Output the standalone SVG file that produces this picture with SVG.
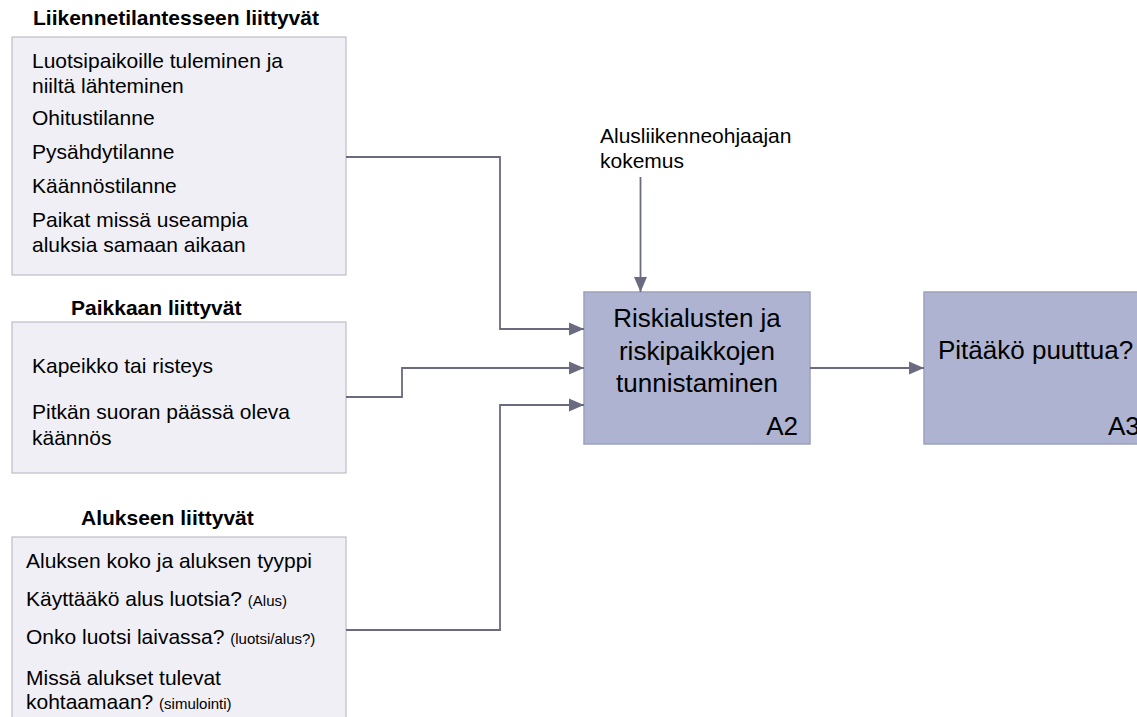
<svg xmlns="http://www.w3.org/2000/svg" width="1137" height="717" viewBox="0 0 1137 717">
<defs>
<style>
text{font-family:"Liberation Sans",Arial,sans-serif;fill:#000}
.h{font-size:21px;font-weight:bold}
.b{font-size:21px}
.s{font-size:15px}
.big{font-size:26px}
.src{fill:#efeff5;stroke:#bdbdc8;stroke-width:1.2}
.act{fill:#adb3d0;stroke:#9ca1bb;stroke-width:1.5}
.c{fill:none;stroke:#6a6a80;stroke-width:1.8;marker-end:url(#ah)}
.l{fill:none;stroke:#6a6a80;stroke-width:1.8}
</style>
<marker id="ah" markerUnits="userSpaceOnUse" markerWidth="16" markerHeight="14" refX="15" refY="7" orient="auto">
<path d="M0,0.5 L15,7 L0,13.5 Z" fill="#6a6a80"/>
</marker>
</defs>
<rect width="1137" height="717" fill="#fff"/>
<g id="liikenne">
<text class="h" x="33" y="25">Liikennetilantesseen liittyvät</text>
<rect class="src" x="12" y="37" width="334" height="238"/>
<text class="b" x="32" y="68">Luotsipaikoille tuleminen ja</text>
<text class="b" x="32" y="93">niiltä lähteminen</text>
<text class="b" x="32" y="125">Ohitustilanne</text>
<text class="b" x="32" y="159">Pysähdytilanne</text>
<text class="b" x="32" y="193">Käännöstilanne</text>
<text class="b" x="32" y="227">Paikat missä useampia</text>
<text class="b" x="32" y="252">aluksia samaan aikaan</text>
</g>
<g id="paikka">
<text class="h" x="71" y="315">Paikkaan liittyvät</text>
<rect class="src" x="12" y="322" width="334" height="151"/>
<text class="b" x="32" y="373">Kapeikko tai risteys</text>
<text class="b" x="32" y="419">Pitkän suoran päässä oleva</text>
<text class="b" x="32" y="445">käännös</text>
</g>
<g id="alus">
<text class="h" x="81" y="525">Alukseen liittyvät</text>
<rect class="src" x="12" y="537" width="334" height="200"/>
<text class="b" x="26" y="568">Aluksen koko ja aluksen tyyppi</text>
<text class="b" x="26" y="606">Käyttääkö alus luotsia? <tspan class="s">(Alus)</tspan></text>
<text class="b" x="26" y="644">Onko luotsi laivassa? <tspan class="s">(luotsi/alus?)</tspan></text>
<text class="b" x="26" y="685">Missä alukset tulevat</text>
<text class="b" x="26" y="709">kohtaamaan? <tspan class="s">(simulointi)</tspan></text>
</g>
<g id="kokemus">
<text class="b" x="600" y="143">Alusliikenneohjaajan</text>
<text class="b" x="600" y="168">kokemus</text>
</g>
<g id="A2">
<rect class="act" x="584" y="292" width="226" height="152"/>
<text class="big" x="697" y="327" text-anchor="middle">Riskialusten ja</text>
<text class="big" x="697" y="360" text-anchor="middle">riskipaikkojen</text>
<text class="big" x="697" y="392" text-anchor="middle">tunnistaminen</text>
<text class="big" x="798" y="435" text-anchor="end">A2</text>
</g>
<g id="A3">
<rect class="act" x="924" y="292" width="240" height="152"/>
<text class="big" x="938" y="359">Pitääkö puuttua?</text>
<text class="big" x="1108" y="435">A3</text>
</g>
<g id="connectors">
<path class="c" d="M346,157 H500 V329 H584"/>
<path class="c" d="M346,397 H402 V368 H584"/>
<path class="c" d="M346,630 H500 V405 H584"/>
<path class="c" d="M640.5,177 V292"/>
<path class="c" d="M810,368 H924"/>
</g>
</svg>
